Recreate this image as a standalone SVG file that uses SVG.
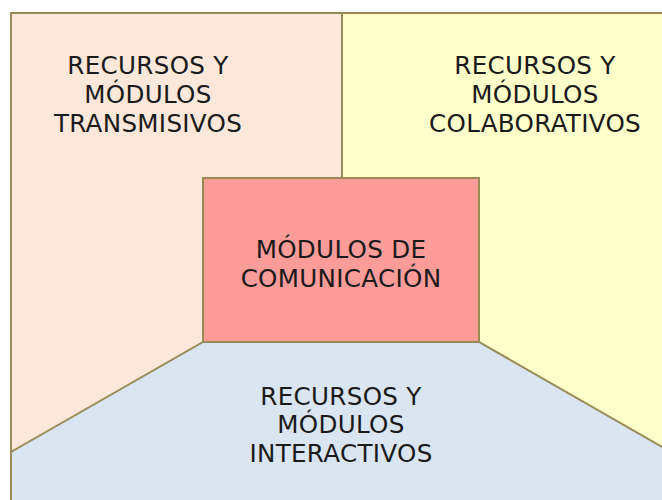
<svg xmlns="http://www.w3.org/2000/svg" width="662" height="500" viewBox="0 0 662 500">
<style>
.s{stroke:#998a58;stroke-width:2;stroke-linejoin:miter}
.t{font-family:"DejaVu Sans","Verdana",sans-serif;font-size:24.6px;letter-spacing:0.3px;fill:#1a1a1a;text-anchor:middle}
</style>
<rect width="662" height="500" fill="#ffffff"/>
<g id="transmisivos">
<rect class="s" x="11" y="13" width="331" height="500" fill="#fce8da"/>
<text class="t" x="148" y="74">RECURSOS Y</text>
<text class="t" x="148" y="103">MÓDULOS</text>
<text class="t" x="148" y="132">TRANSMISIVOS</text>
</g>
<g id="colaborativos">
<rect class="s" x="342" y="13" width="340" height="500" fill="#ffffcc"/>
<text class="t" x="535" y="74">RECURSOS Y</text>
<text class="t" x="535" y="103">MÓDULOS</text>
<text class="t" x="535" y="132">COLABORATIVOS</text>
</g>
<g id="interactivos">
<polygon class="s" points="203,342 479,342 671,452 671,520 11,520 11,452" fill="#dae5f2"/>
<text class="t" x="341" y="405">RECURSOS Y</text>
<text class="t" x="341" y="433">MÓDULOS</text>
<text class="t" x="341" y="462">INTERACTIVOS</text>
</g>
<g id="comunicacion">
<rect class="s" x="203" y="178" width="276" height="164" fill="#fc9c99"/>
<text class="t" x="341" y="258">MÓDULOS DE</text>
<text class="t" x="341" y="287">COMUNICACIÓN</text>
</g>
<g id="connectors"></g>
</svg>
